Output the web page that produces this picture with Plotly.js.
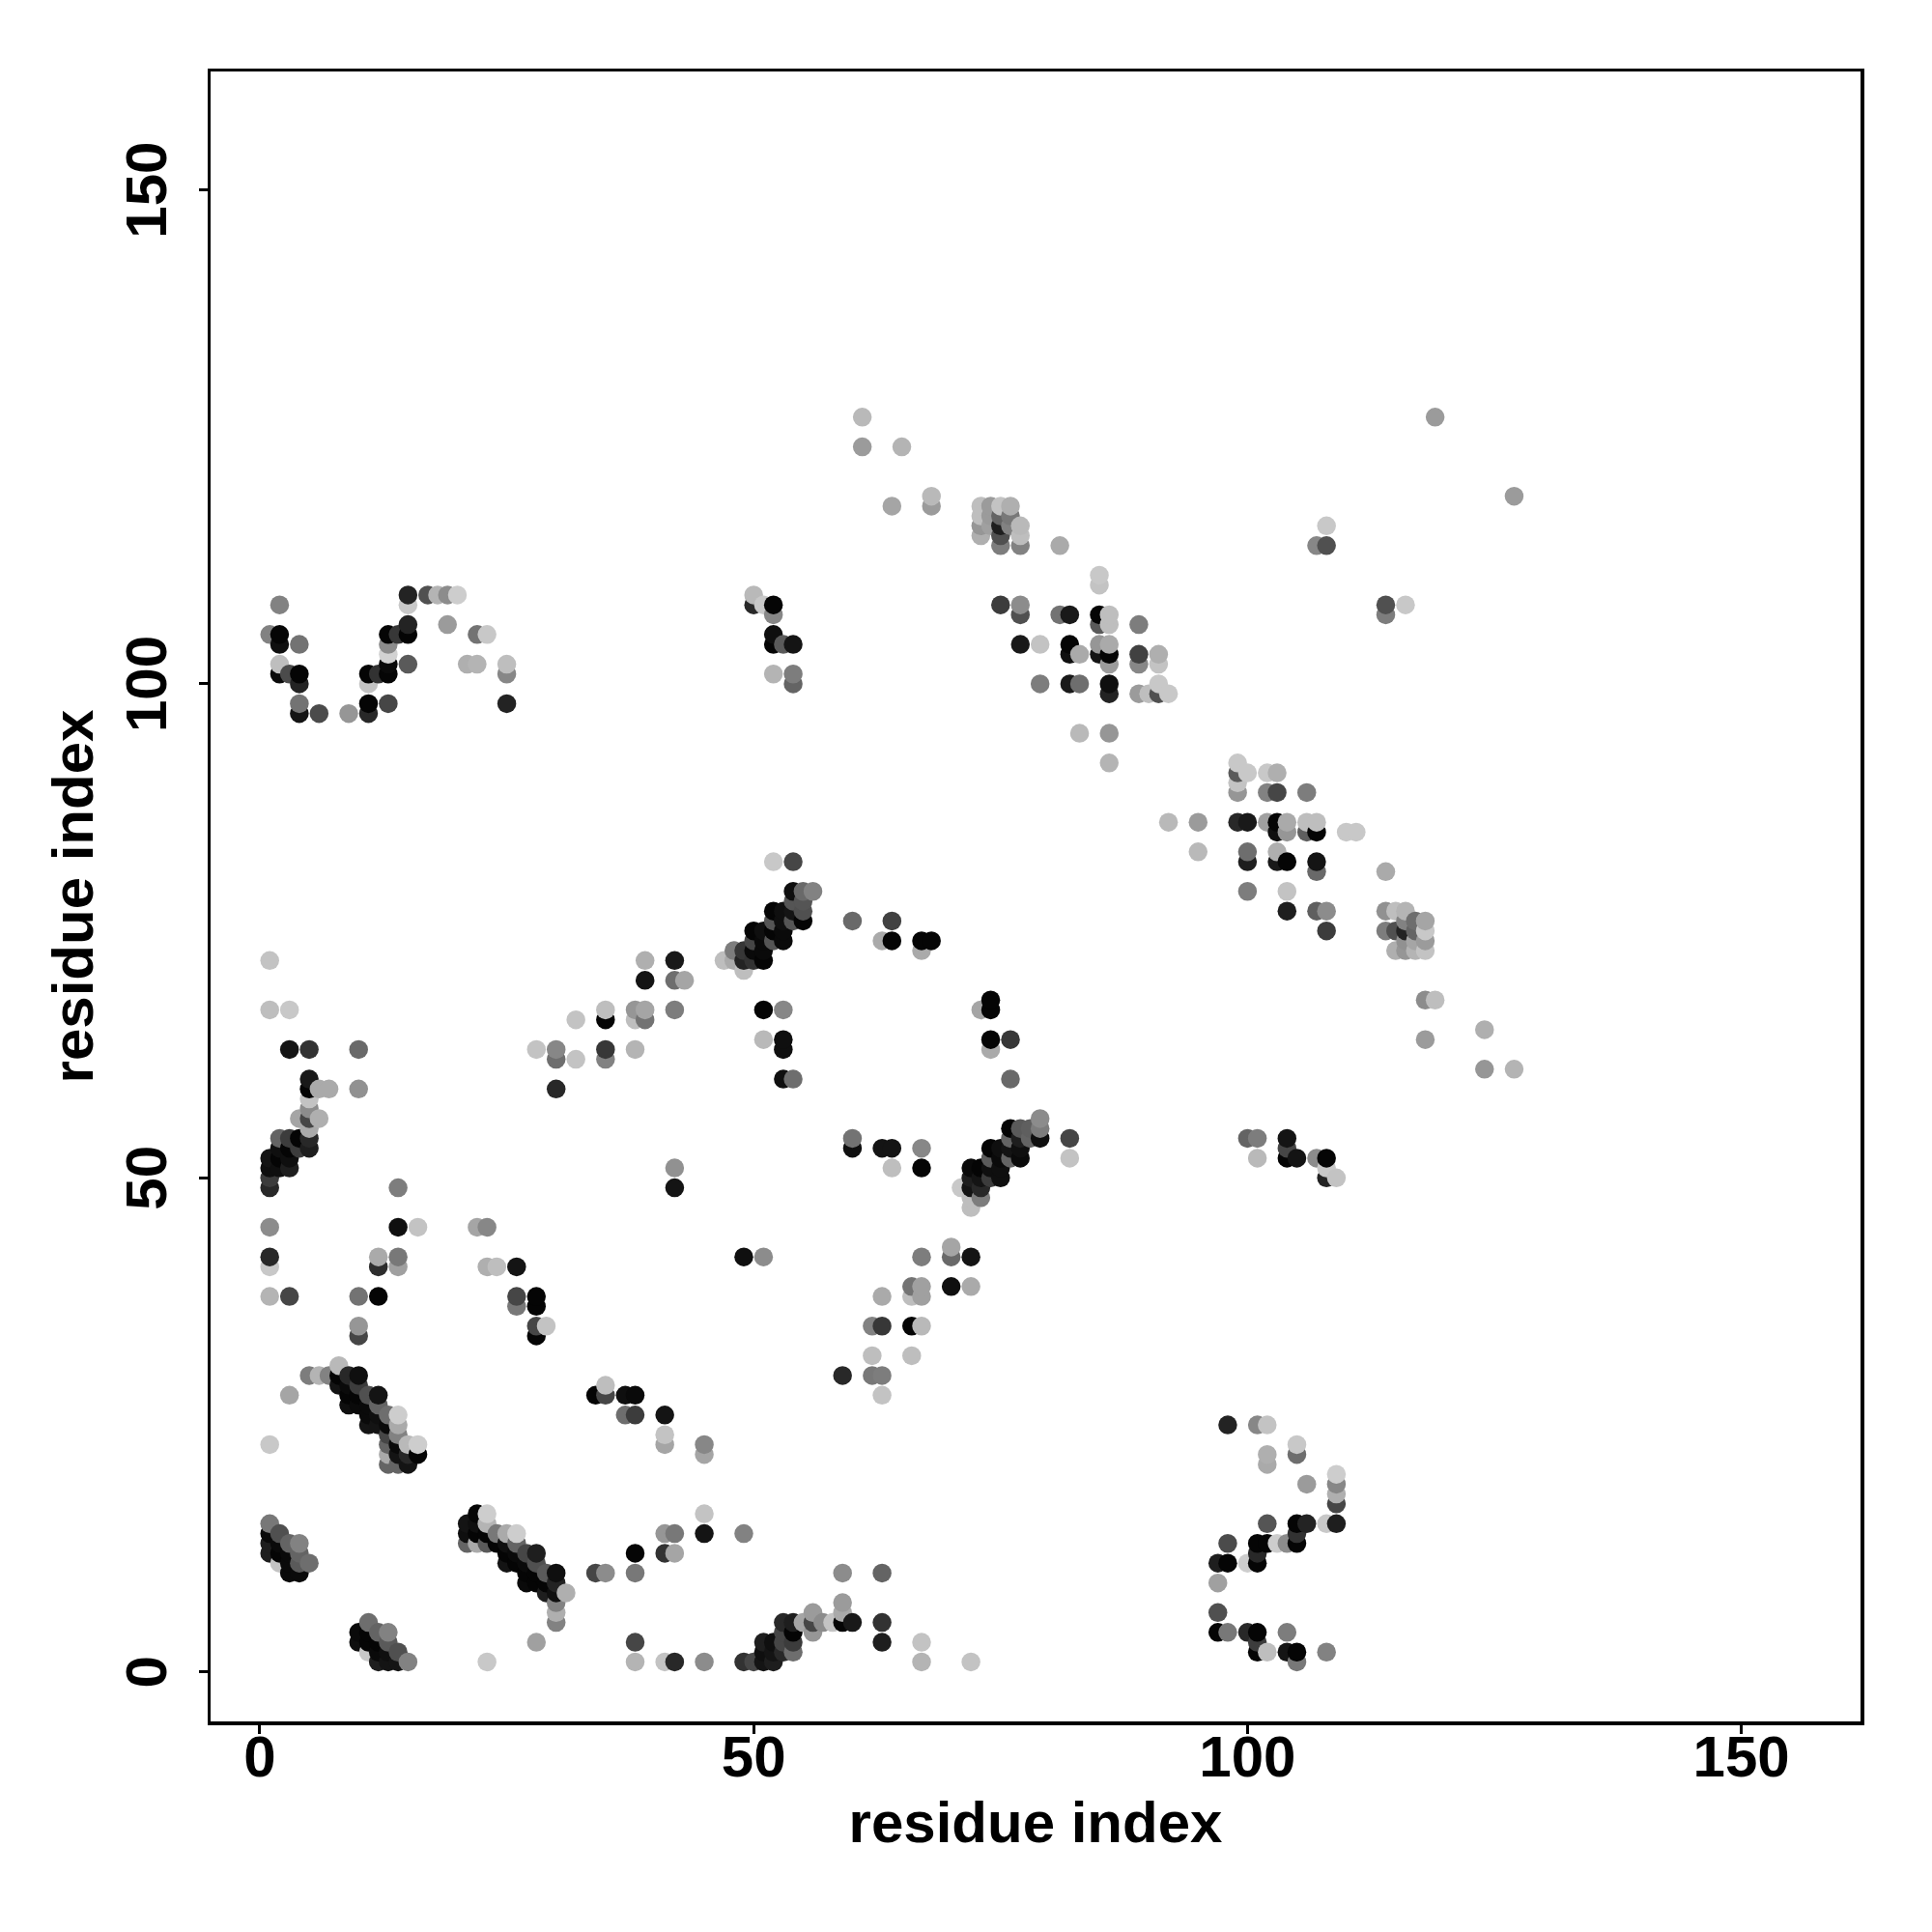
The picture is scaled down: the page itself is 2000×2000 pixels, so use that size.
<!DOCTYPE html>
<html>
<head>
<meta charset="utf-8">
<script src="https://cdn.plot.ly/plotly-3.0.1.min.js"></script>
<style>html,body{margin:0;padding:0;background:#fff}#chart{width:2000px;height:2000px}</style>
</head>
<body>
<div id="chart"></div>
<script>
const axisTitle = "residue index";
const tickValues = [0, 50, 100, 150];
const residueI = [1,2,3,4,5,6,7,8,9,10,11,12,13,14,15,16,17,18,19,20,21,22,23,24,25,26,27,28,29,30,31,32,34,35,37,38,39,41,42,43,45,47,48,49,50,51,52,53,54,55,56,57,58,59,60,61,62,63,64,65,66,67,68,70,71,72,73,74,75,76,77,78,79,81,82,83,85,86,89,90,91,92,95,97,98,99,100,101,102,103,104,105,106,107,108,109,110,111,114,115,116,117,118,119,124,127];
const residueJ = [
[12,13,14,15,23,38,41,42,45,49,50,51,52,67,72,105],
[11,12,13,14,51,52,53,54,101,102,104,105,108],
[10,11,12,13,28,38,51,52,53,54,63,67,101],
[10,11,12,13,53,54,56,97,98,100,101,104],
[11,30,53,54,55,56,57,58,59,60,63],
[30,56,59,97],
[30,59],
[29,30,31],
[27,28,29,30,97],
[3,4,27,28,29,30,34,35,38,59,63],
[2,3,4,5,25,26,27,28,97,98,100,101],
[1,2,3,4,25,26,27,28,38,41,42,101],
[1,2,3,4,21,22,23,24,25,26,98,101,102,103,104,105],
[1,2,21,22,23,24,25,26,41,42,45,49,105],
[1,21,22,23,102,105,106,108,109],
[22,23,45],
[109],
[109],
[106,109],
[109],
[13,14,15,102],
[13,14,15,16,45,102,105],
[1,13,14,15,16,41,45,105],
[13,14,41],
[11,12,13,14,98,101,102],
[11,12,13,14,37,38,41],
[9,10,11,12],
[3,9,10,11,12,34,35,37,38,63],
[8,9,10,35],
[5,6,7,8,9,10,59,62,63],
[8],
[62,66],
[10,28],
[10,28,29,62,63,66,67],
[26,28],
[1,3,10,12,26,28,63,66,67],
[66,67,70,72],
[1,12,14,23,24,26],
[1,12,14,49,51,67,70,72],
[70],
[1,14,16,22,23],
[72],
[72,73],
[1,14,42,71,72,73],
[1,72,73,74,75,108,109],
[1,2,3,42,64,67,72,73,74,75,108],
[1,2,3,74,75,76,77,82,101,104,105,107,108],
[2,3,4,5,60,63,64,67,74,75,76,77,104],
[2,3,4,5,60,76,77,78,79,82,100,101,104],
[5,76,77,78,79],
[4,5,6,79],
[5],
[5],
[5,6,7,10,30],
[5,53,54,76],
[124,127],
[30,32,35],
[3,5,10,28,30,35,38,53,74],
[51,53,74,76,118],
[124],
[32,35,38,39],
[1,3,35,38,39,42,51,53,73,74],
[74,118,119],
[39,42,43],
[49],
[1,39,42,47,48,49,50,51],
[48,49,50,51,67,115,116,117,118],
[50,51,52,53,63,64,67,68,116,117,118],
[50,51,52,53,108,114,115,116,117,118],
[52,53,54,55,60,64,116,117,118],
[52,53,54,55,104,107,108,114,115,116],
[54,55],
[54,55,56,100,104],
[107,114],
[52,54,100,103,104,107],
[95,100,103],
[103,104,106,107,110,111],
[92,95,99,100,102,103,104,106,107],
[99,102,103,106],
[99],
[99,100,102,103],
[86,99],
[83,86],
[4,6,9,11],
[4,11,13,25],
[86,89,90,91,92],
[4,11,54,79,82,83,86,91],
[2,3,4,11,12,13,25,52,54],
[2,13,15,21,22,25,86,89,91],
[13,82,83,85,86,89,91],
[2,4,13,52,53,54,77,79,82,85,86],
[1,2,13,14,15,22,23,52],
[15,19,85,86,89],
[52,77,81,82,85,86,114],
[2,15,50,51,52,75,77,114,116],
[15,17,18,19,20,50],
[85],
[85],
[75,77,81,107,108],
[73,75,77],
[73,74,75,76,77,108],
[73,74,75,76],
[64,68,73,74,75,76],
[68,127],
[61,65],
[61,119]
];
const shade = [
[30,30,10,120,200,180,200,40,140,40,60,15,20,190,195,130],
[195,5,10,80,15,5,15,100,10,190,15,5,130],
[10,10,10,100,165,70,30,15,5,60,20,200,75],
[10,90,100,130,60,5,165,20,115,35,5,115],
[110,125,30,40,170,70,140,195,5,25,50],
[180,175,170,75],
[130,170],
[20,5,185],
[15,5,10,40,150],
[15,10,10,5,60,15,70,150,115,145,105],
[200,5,5,110,20,10,10,80,40,5,195,5],
[30,10,5,100,20,15,100,20,5,45,170,50],
[20,15,90,130,100,170,100,70,10,110,70,5,10,210,140,5],
[20,80,100,20,10,130,170,205,160,120,15,125,55],
[130,20,40,185,90,5,35,200,35],
[5,205,195],
[80],
[180],
[155,140],
[205],
[100,15,20,175],
[170,5,15,5,165,180,115],
[200,90,5,180,205,175,135,200],
[5,120,190],
[20,5,15,170,35,135,190],
[5,10,100,205,120,70,20],
[10,5,10,70],
[160,5,5,80,30,5,70,5,5,195],
[30,5,90,195],
[130,175,130,15,35,15,40,110,135],
[175],
[195,195],
[70,5],
[140,70,190,130,55,5,190],
[110,15],
[180,70,120,5,60,10,180,190,150],
[115,165,20,175],
[195,50,150,165,195,20],
[40,165,120,20,145,125,110,25],
[165],
[140,20,195,165,135],
[190],
[170,125],
[50,130,15,190,35,55],
[70,50,10,70,5,40,185],
[20,15,30,140,185,5,5,10,10,15,200],
[30,20,15,85,5,85,5,200,180,5,15,135,5],
[40,70,70,40,15,15,15,135,10,10,15,15,90],
[110,60,5,30,110,85,20,85,15,70,100,125,20],
[165,5,80,85,105],
[150,70,155,130],
[140],
[195],
[5,170,155,140,40],
[25,15,115,105],
[155,185],
[120,190,130],
[30,50,100,195,125,55,170,20,170],
[190,20,5,65,165],
[180],
[190,5,190,115],
[180,195,185,160,160,125,5,135,170,5],
[5,155,185],
[15,105,165],
[200],
[195,170,20,190,190,20,30,10],
[125,40,20,5,165,175,150,190,190],
[60,15,90,5,170,5,5,5,160,155,155],
[15,15,10,15,60,125,80,30,100,195],
[100,20,100,5,105,55,130,120,175],
[10,15,30,90,25,80,140,130,190,185],
[100,95],
[15,125,140,125,195],
[115,170],
[195,70,25,15,5,25],
[185,110,170],
[20,150,90,5,195,200],
[180,150,35,15,155,5,170,190,190],
[155,135,65,125],
[190],
[80,200,195,175],
[185,200],
[185,155],
[5,80,160,30],
[120,5,75,35],
[40,150,195,90,200],
[40,205,100,125,30,110,25,200],
[5,60,5,5,40,5,135,185,125],
[190,5,85,170,175,195,160,130,200],
[205,25,175,15,5,70,175],
[20,125,140,5,70,20,30,195,5,150,170],
[120,5,5,50,5,110,200,20],
[35,155,95,190,125],
[140,95,105,20,5,190,135],
[130,200,35,200,5,60,140,80,200],
[30,70,175,135,205,195],
[200],
[200],
[125,145,170,125,80],
[175,80,190],
[150,145,35,130,180,200],
[180,165,100,110],
[155,140,195,155,200,165],
[190,155],
[150,175],
[180,155]
];

const xs = [], ys = [], colours = [];
residueI.forEach((i, g) => {
  residueJ[g].forEach((j, k) => {
    xs.push(i); ys.push(j);
    const v = shade[g][k];
    colours.push(`rgb(${v},${v},${v})`);
  });
});

const fontFamily = '"Liberation Sans", Arial, sans-serif';
const axisCommon = {
  tickmode: 'array', tickvals: tickValues, ticktext: tickValues.map(String),
  showgrid: false, zeroline: false,
  showline: true, mirror: true, linecolor: '#000', linewidth: 3.5,
  ticks: 'outside', ticklen: 9, tickwidth: 3, tickcolor: '#000',
  tickfont: {family: fontFamily, size: 60, color: '#000', weight: 'bold'},
  automargin: false
};
Plotly.newPlot('chart', [{
  type: 'scatter', mode: 'markers', x: xs, y: ys,
  marker: {size: 19.5, color: colours, opacity: 1, line: {width: 0}},
  hoverinfo: 'x+y'
}], {
  width: 2000, height: 2000,
  paper_bgcolor: '#fff', plot_bgcolor: '#fff',
  showlegend: false,
  margin: {l: 218, r: 73.5, t: 74, b: 218, pad: 0},
  xaxis: Object.assign({}, axisCommon, {
    range: [-4.987, 162.07], ticklabelstandoff: -28,
    title: {text: '<b>' + axisTitle + '</b>', font: {family: fontFamily, size: 60, color: '#000'}, standoff: 15}
  }),
  yaxis: Object.assign({}, axisCommon, {
    range: [-5.016, 161.99], tickangle: -90, ticklabelstandoff: 10, ticklabelshift: 9,
    title: {text: '<b>' + axisTitle + '</b>', font: {family: fontFamily, size: 60, color: '#000'}, standoff: 2}
  })
}, {displayModeBar: false, staticPlot: true});
</script>
</body>
</html>
